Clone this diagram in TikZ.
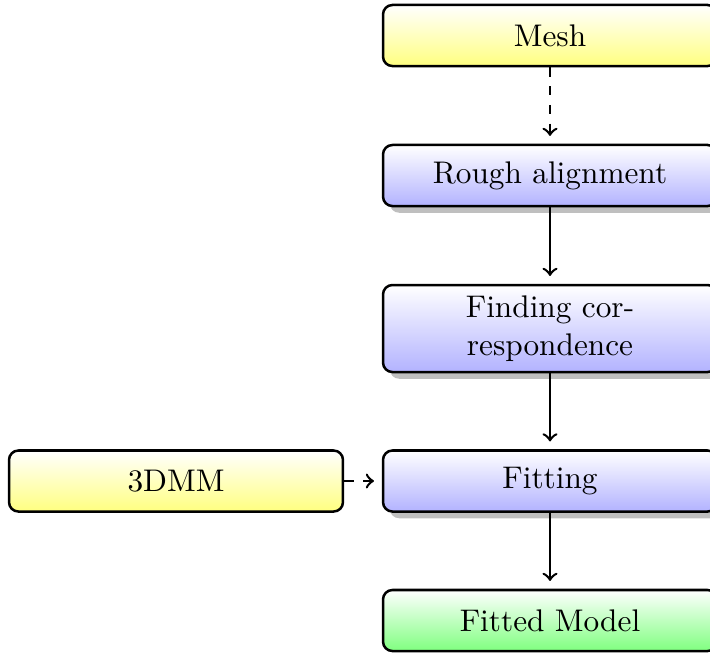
\documentclass[tikz,border=0pt]{standalone}
\usetikzlibrary{shadows}
\begin{document}
\begin{tikzpicture}[x=0.3195pt,y=0.3195pt,
 box/.style={draw, thick, rounded corners=3pt, minimum width=106.7pt, minimum height=19.5pt, align=center, inner sep=0pt},
 ybox/.style={box, top color=white, bottom color=yellow!50},
 bbox/.style={box, top color=white, bottom color=blue!30, drop shadow},
 gbox/.style={box, top color=white, bottom color=green!50},
 arr/.style={->, thick, shorten >=2.5pt},
 darr/.style={->, thick, dashed, shorten >=2.5pt}]
\useasboundingbox (0,0) rectangle (710,-653);
\node[ybox] (mesh) at (550,-35.5) {Mesh};
\node[bbox] (rough) at (550,-175.5) {Rough alignment};
\node[bbox, minimum height=27.8pt] (corr) at (550,-328.5) {Finding cor-\\respondence};
\node[bbox] (fit) at (550,-481) {Fitting};
\node[gbox] (model) at (550,-620.5) {Fitted Model};
\node[ybox] (dmm) at (176,-481) {3DMM};
\draw[darr] (mesh) -- (rough);
\draw[arr] (rough) -- (corr);
\draw[arr] (corr) -- (fit);
\draw[arr] (fit) -- (model);
\draw[darr] (dmm) -- (fit);
\end{tikzpicture}
\end{document}
